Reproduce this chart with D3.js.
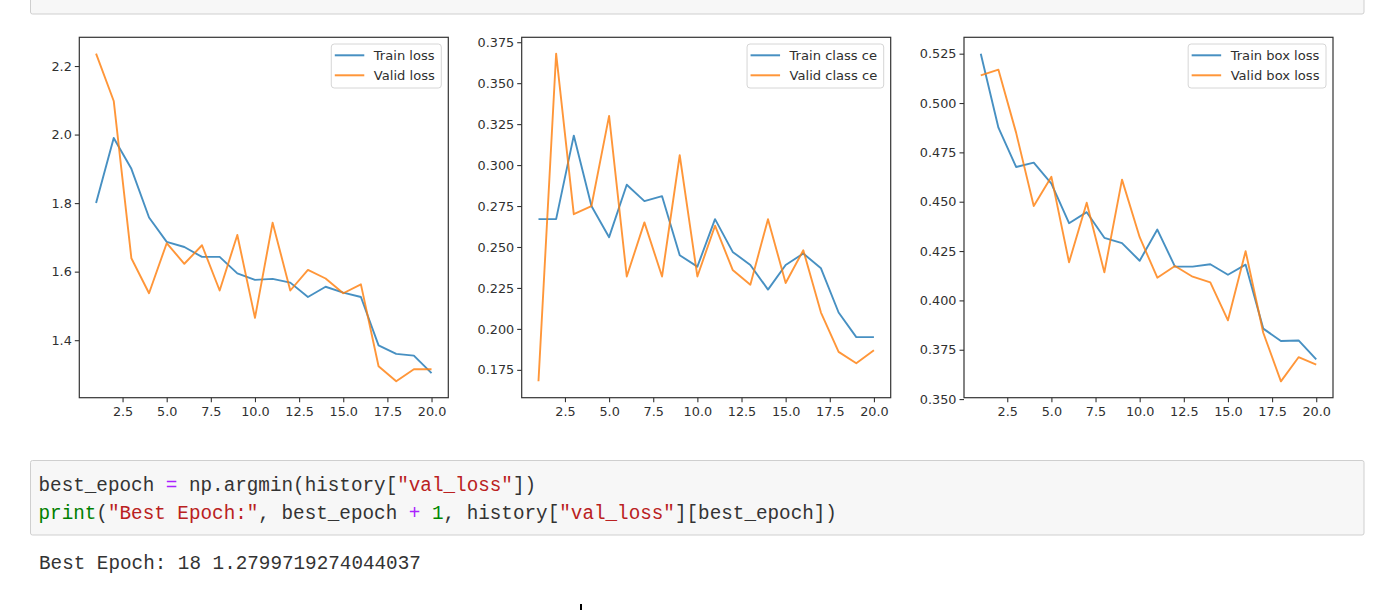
<!DOCTYPE html>
<html><head><meta charset="utf-8">
<script src="https://cdn.jsdelivr.net/npm/d3@7"></script>
<style>
html,body{margin:0;padding:0;background:#fff;}
svg{display:block;}
</style></head>
<body>
<svg id="c" width="1373" height="610"></svg>
<script>
// ---- data ----
const epochs = d3.range(1, 21);
const trainLoss = [1.800,1.990,1.900,1.758,1.687,1.672,1.643,1.643,1.595,1.576,1.579,1.568,1.526,1.556,1.539,1.526,1.385,1.360,1.355,1.304];
const validLoss = [2.236,2.098,1.639,1.537,1.683,1.623,1.677,1.545,1.707,1.465,1.743,1.545,1.605,1.580,1.537,1.563,1.324,1.280,1.315,1.315];
const trainClassCe = [0.267,0.267,0.318,0.275,0.256,0.288,0.278,0.281,0.245,0.238,0.267,0.247,0.239,0.224,0.239,0.246,0.237,0.210,0.195,0.195];
const validClassCe = [0.168,0.368,0.270,0.275,0.330,0.232,0.265,0.232,0.306,0.232,0.263,0.236,0.227,0.267,0.228,0.248,0.210,0.186,0.179,0.187];
const trainBoxLoss = [0.525,0.4875,0.4676,0.4698,0.4592,0.4391,0.4447,0.4317,0.4290,0.4201,0.4359,0.4171,0.4171,0.4183,0.4130,0.4181,0.3857,0.3794,0.3797,0.3701];
const validBoxLoss = [0.514,0.5169,0.485,0.4478,0.4626,0.4193,0.4495,0.4142,0.4612,0.4320,0.4115,0.4174,0.4120,0.4091,0.3899,0.4249,0.3836,0.3590,0.3712,0.3675];
const xTicks = [2.5,5.0,7.5,10.0,12.5,15.0,17.5,20.0];
const yTicks1 = [1.4,1.6,1.8,2.0,2.2];
const yTicks2 = [0.175,0.200,0.225,0.250,0.275,0.300,0.325,0.350,0.375];
const yTicks3 = [0.350,0.375,0.400,0.425,0.450,0.475,0.500,0.525];
const legend1 = ["Train loss","Valid loss"];
const legend2 = ["Train class ce","Valid class ce"];
const legend3 = ["Train box loss","Valid box loss"];
const colors = ["#1f77b4","#ff7f0e"];

const panels = [
  {left:79.3, series:[trainLoss,validLoss], yTicks:yTicks1, fmt:".1f", legend:legend1},
  {left:521.7, series:[trainClassCe,validClassCe], yTicks:yTicks2, fmt:".3f", legend:legend2},
  {left:964, series:[trainBoxLoss,validBoxLoss], yTicks:yTicks3, fmt:".3f", legend:legend3}
];
const W = 369, TOP = 37.3, BOT = 397.7;

const svg = d3.select("#c");

// top (previous) cell remnant
svg.append("rect").attr("x",30.5).attr("y",-6).attr("width",1333.5).attr("height",20)
  .attr("rx",2).attr("fill","#f7f7f7").attr("stroke","#cfcfcf");

panels.forEach(p => {
  const all = p.series.flat();
  const [mn, mx] = d3.extent(all);
  const pad = (mx - mn) * 0.05;
  const x = d3.scaleLinear().domain([1 - 0.95, 20 + 0.95]).range([p.left, p.left + W]);
  const y = d3.scaleLinear().domain([mn - pad, mx + pad]).range([BOT, TOP]);
  const g = svg.append("g");

  // lines
  const line = d3.line().x((d,i)=>x(epochs[i])).y(d=>y(d));
  p.series.forEach((s,k)=>{
    g.append("path").datum(s).attr("d",line).attr("fill","none")
      .attr("stroke",colors[k]).attr("stroke-width",1.9).attr("stroke-opacity",0.82)
      .attr("stroke-linejoin","round");
  });

  // axes
  const xa = g.append("g").attr("transform",`translate(0,${BOT})`)
    .call(d3.axisBottom(x).tickValues(xTicks).tickFormat(d3.format(".1f")).tickSize(4.5).tickSizeOuter(0));
  const ya = g.append("g").attr("transform",`translate(${p.left},0)`)
    .call(d3.axisLeft(y).tickValues(p.yTicks).tickFormat(d3.format(p.fmt)).tickSize(4.5).tickSizeOuter(0));
  [xa,ya].forEach(a=>{
    a.select(".domain").remove();
    a.selectAll("line").attr("stroke","#333").attr("stroke-width",1.1);
    a.selectAll("text").attr("font-family","DejaVu Sans").attr("font-size",12.8).attr("fill","#303030");
  });
  xa.selectAll("text").attr("dy","1.0em").attr("y",6);
  ya.selectAll("text").attr("x",-7.5);

  // frame
  g.append("rect").attr("x",p.left).attr("y",TOP).attr("width",W).attr("height",BOT-TOP)
    .attr("fill","none").attr("stroke","#333").attr("stroke-width",1.2);

  // legend
  const lg = g.append("g");
  const texts = p.legend.map((t,k)=>lg.append("text").text(t)
      .attr("font-family","DejaVu Sans").attr("font-size",13.1).attr("fill","#303030"));
  const tw = d3.max(texts, t=>t.node().getComputedTextLength());
  const lw = 3.5 + 29.5 + 9.5 + tw + 6.5, lh = 44;
  const lx = p.left + W - 7 - lw, ly = TOP + 6.7;
  lg.insert("rect","text").attr("x",lx).attr("y",ly).attr("width",lw).attr("height",lh)
    .attr("rx",3).attr("fill","#fff").attr("fill-opacity",0.8).attr("stroke","#d6d6d6");
  p.legend.forEach((t,k)=>{
    const cy = ly + 11.3 + k*20;
    lg.append("line").attr("x1",lx+3.5).attr("x2",lx+33).attr("y1",cy).attr("y2",cy)
      .attr("stroke",colors[k]).attr("stroke-width",2).attr("stroke-opacity",0.82);
    texts[k].attr("x",lx+42.5).attr("y",cy+4.6);
  });
});

// code cell
svg.append("rect").attr("x",30.5).attr("y",460.5).attr("width",1333.5).attr("height",74.5)
  .attr("rx",2).attr("fill","#f7f7f7").attr("stroke","#cfcfcf");

const mono = "Liberation Mono";
const codeLines = [
  [["best_epoch ","#333"],["=","#aa22ff"],[" np.argmin(history[","#333"],["\"val_loss\"","#ba2121"],["])","#333"]],
  [["print","#008000"],["(","#333"],["\"Best Epoch:\"","#ba2121"],[", best_epoch ","#333"],["+","#aa22ff"],[" ","#333"],["1","#008800"],[", history[","#333"],["\"val_loss\"","#ba2121"],["][best_epoch])","#333"]]
];
const outputText = "Best Epoch: 18 1.2799719274044037";
codeLines.forEach((segs,i)=>{
  const t = svg.append("text").attr("x",38.5).attr("y",491 + i*27.5)
    .attr("font-family",mono).attr("font-size",19.3).style("white-space","pre");
  segs.forEach(s=>t.append("tspan").text(s[0]).attr("fill",s[1]));
});
svg.append("text").attr("x",39).attr("y",569).attr("font-family",mono).attr("font-size",19.3)
  .attr("fill","#333").style("white-space","pre").text(outputText);

// text cursor mark
svg.append("rect").attr("x",580).attr("y",604).attr("width",2).attr("height",6).attr("fill","#000");
</script>
</body></html>
